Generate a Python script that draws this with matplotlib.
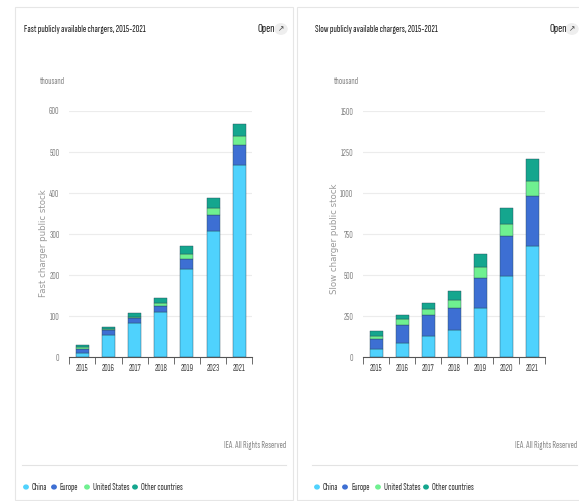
import matplotlib.pyplot as plt
import numpy as np
from matplotlib.patches import Rectangle, Circle

plt.rcParams['font.family'] = ['Sofia Sans Extra Condensed', 'Roboto Condensed', 'DejaVu Sans']

years = ['2015', '2016', '2017', '2018', '2019', '2020', '2021']
fast_labels = ['2015', '2016', '2017', '2018', '2019', '2023', '2021']
series = ['China', 'Europe', 'United States', 'Other countries']
colors = ['#4fd2fd', '#3d6fd3', '#6ff090', '#14a68e']

# thousand chargers
fast_china = [11, 55, 83, 111, 215, 308, 468]
fast_europe = [10, 11, 12, 14, 24, 38, 50]
fast_us = [3, 3, 4, 7, 13, 17, 20]
fast_other = [5, 6, 10, 13, 18, 24, 31]

slow_china = [49, 89, 130, 166, 300, 495, 678]
slow_europe = [61, 106, 126, 134, 185, 244, 305]
slow_us = [20, 36, 36, 49, 67, 73, 89]
slow_other = [30, 25, 41, 57, 75, 99, 136]

W, H = 579, 501
fig = plt.figure(figsize=(W / 100, H / 100), dpi=100)
fig.patch.set_facecolor('white')


def px(x, y):
    return x / W, 1 - y / H


def panel(x0, ax_left, ax_right, title, ylabel, data, ymax, yticks, xlabels,
          open_x, card_left, card_right, sep_left, sep_right, legend_x, lab_xy):
    # card
    fig.add_artist(Rectangle(px(card_left, 500), (card_right - card_left) / W, 493 / H,
                             transform=fig.transFigure, fill=False,
                             edgecolor='#e6e6e6', linewidth=0.8))
    fig.text(*px(x0, 29), title, fontsize=7.5, fontweight='bold', va='center',
             color='#1a1a1a')
    fig.text(*px(open_x, 29), 'Open', fontsize=9, fontweight='bold', va='center',
             color='#1a1a1a')
    fig.add_artist(Circle(px(open_x + 23, 29), 6 / W, transform=fig.transFigure,
                          color='#eeeeee'))
    fig.text(*px(open_x + 23, 29), '\u2197', fontsize=5.5, va='center', ha='center',
             color='#444444', family=['DejaVu Sans'])
    fig.text(*px(ax_left - 29, 82), 'thousand', fontsize=7, va='center',
             color='#888888')

    ax = fig.add_axes([ax_left / W, (H - 357.3) / H,
                       (ax_right - ax_left) / W, 246.3 / H])
    x = np.arange(len(xlabels))
    bottom = np.zeros(len(xlabels))
    for vals, c in zip(data, colors):
        ax.bar(x, vals, 0.5, bottom=bottom, color=c, edgecolor='#2a4a5a',
               linewidth=0.3)
        bottom += np.array(vals)
    ax.set_xlim(-0.5, len(xlabels) - 0.5)
    ax.set_ylim(0, ymax)
    ax.set_yticks(yticks)
    ax.set_yticklabels([str(t) for t in yticks], fontsize=7, color='#888888')
    ax.set_xticks(x)
    ax.set_xticklabels(xlabels, fontsize=7, color='#444444')
    ax.set_xticks(np.arange(len(xlabels) + 1) - 0.5, minor=True)
    ax.tick_params(axis='x', which='major', length=0, pad=5)
    ax.tick_params(axis='x', which='minor', length=5, color='#555555', width=0.6)
    ax.tick_params(axis='y', length=0, pad=7)
    ax.grid(axis='y', color='#ececec', linewidth=0.8)
    ax.set_axisbelow(True)
    for s in ['top', 'right', 'left']:
        ax.spines[s].set_visible(False)
    ax.spines['bottom'].set_color('#555555')
    ax.spines['bottom'].set_linewidth(0.8)
    ax.set_ylabel(ylabel, fontsize=6.2, color='#999999', family=['DejaVu Sans'])
    ax.yaxis.set_label_coords(*lab_xy)

    fig.text(*px(sep_right, 446), 'IEA. All Rights Reserved', fontsize=7,
             ha='right', va='center', color='#888888')
    fig.add_artist(plt.Line2D([sep_left / W, sep_right / W], [1 - 465 / H] * 2,
                              transform=fig.transFigure, color='#e3e3e3',
                              linewidth=0.8))
    offs = [0, 28, 61, 109]
    for name, c, o in zip(series, colors, offs):
        fig.add_artist(Circle(px(legend_x + o, 487), 2.2 / W,
                              transform=fig.transFigure, color=c))
        fig.text(*px(legend_x + o + 6, 487), name, fontsize=7, va='center',
                 color='#333333')


panel(24, 69.3, 252.3, 'Fast publicly available chargers, 2015-2021',
      'Fast charger public stock',
      [fast_china, fast_europe, fast_us, fast_other], 600,
      [0, 100, 200, 300, 400, 500, 600], fast_labels,
      258, 15, 293, 22, 286, 26, (-0.115, 0.464))
panel(315, 363.3, 545, 'Slow publicly available chargers, 2015-2021',
      'Slow charger public stock',
      [slow_china, slow_europe, slow_us, slow_other], 1500,
      [0, 250, 500, 750, 1000, 1250, 1500], years,
      549, 297, 600, 312, 577, 317, (-0.135, 0.48))

fig.savefig('out.png', dpi=100)
